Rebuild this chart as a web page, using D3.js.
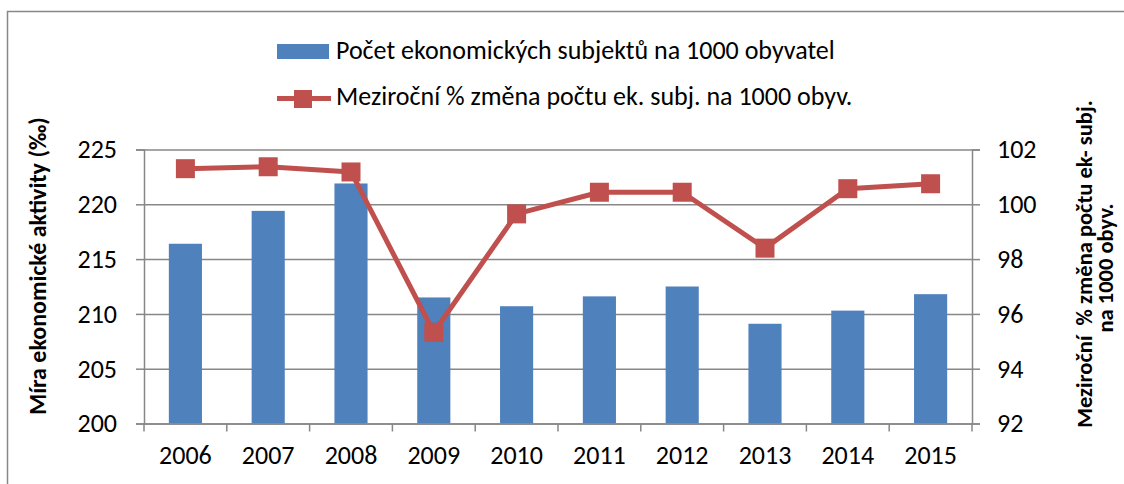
<!DOCTYPE html>
<html>
<head>
<meta charset="utf-8">
<script src="https://cdn.jsdelivr.net/npm/d3@7"></script>
<style>
  body { margin: 0; background: #fff; }
  text { font-family: Carlito, Calibri, 'Liberation Sans', Arial, sans-serif; fill: #000; }
</style>
</head>
<body>
<div id="chart"></div>
<script>
// data
var years = ['2006','2007','2008','2009','2010','2011','2012','2013','2014','2015'];
var pocet = [216.4, 219.4, 221.9, 211.5, 210.7, 211.6, 212.5, 209.1, 210.3, 211.8];
var zmena = [101.3, 101.37, 101.18, 95.33, 99.65, 100.44, 100.44, 98.4, 100.57, 100.75];
var leftTicks = [200, 205, 210, 215, 220, 225];
var rightTicks = [92, 94, 96, 98, 100, 102];
var barName = 'Počet ekonomických subjektů na 1000 obyvatel';
var lineName = 'Meziroční % změna počtu ek. subj. na 1000 obyv.';

var svgW = 1124, svgH = 484;
var margin = {top: 149.5, left: 144, right: 152, bottom: 60.5};
var chartW = svgW - margin.left - margin.right;
var chartH = svgH - margin.top - margin.bottom;

var barColor = '#4F81BD', lineColor = '#C0504D', gridColor = '#878787';

var svg = d3.select('#chart').append('svg')
    .attr('width', svgW)
    .attr('height', svgH);

// outer frame (right and bottom edges fall outside the picture)
svg.append('rect')
    .attr('x', 7.5).attr('y', 11.5)
    .attr('width', svgW + 10).attr('height', svgH + 10)
    .attr('fill', 'none').attr('stroke', '#888').attr('stroke-width', 1.5);

var chart = svg.append('g')
    .attr('transform', `translate(${margin.left},${margin.top})`);

var x = d3.scaleBand().domain(years).range([0, chartW]).paddingInner(0.6).paddingOuter(0.3);
var yL = d3.scaleLinear().domain([200, 225]).range([chartH, 0]);
var yR = d3.scaleLinear().domain([92, 102]).range([chartH, 0]);

// gridlines
var grid = chart.append('g')
    .call(d3.axisLeft(yL).tickValues(leftTicks).tickSize(-chartW).tickFormat(''));
grid.select('.domain').remove();
grid.selectAll('line').attr('stroke', gridColor).attr('stroke-width', 1.5);

// bars
chart.selectAll('rect.bar')
    .data(pocet)
    .enter()
    .append('rect')
    .classed('bar', true)
    .attr('x', (d, i) => x(years[i]))
    .attr('y', d => yL(d))
    .attr('width', x.bandwidth())
    .attr('height', d => chartH - yL(d))
    .attr('fill', barColor);

// left axis
var axL = chart.append('g')
    .call(d3.axisLeft(yL).tickValues(leftTicks).tickSize(8).tickPadding(19));
// right axis
var axR = chart.append('g')
    .attr('transform', `translate(${chartW},0)`)
    .call(d3.axisRight(yR).tickValues(rightTicks).tickSize(8).tickPadding(17));
// x axis labels
var axX = chart.append('g')
    .attr('transform', `translate(0,${chartH})`)
    .call(d3.axisBottom(x).tickSize(0).tickPadding(22));
axX.select('.domain').attr('stroke', gridColor).attr('stroke-width', 1.5);

[axL, axR].forEach(function (a) {
    a.select('.domain').attr('stroke', gridColor).attr('stroke-width', 1.5);
    a.selectAll('line').attr('stroke', gridColor).attr('stroke-width', 1.5);
});
[axL, axR, axX].forEach(function (a) {
    a.selectAll('text').attr('font-size', 26).attr('font-family', null);
});

// x tick marks between categories
var step = x.step();
var bounds = d3.range(years.length + 1).map(i => i * step);
chart.selectAll('line.xtick')
    .data(bounds)
    .enter()
    .append('line')
    .classed('xtick', true)
    .attr('x1', d => d).attr('x2', d => d)
    .attr('y1', chartH).attr('y2', chartH + 8)
    .attr('stroke', gridColor).attr('stroke-width', 1.5);

// line series
var line = d3.line()
    .x((d, i) => x(years[i]) + x.bandwidth() / 2)
    .y(d => yR(d));
chart.append('path')
    .datum(zmena)
    .attr('d', line)
    .attr('fill', 'none')
    .attr('stroke', lineColor)
    .attr('stroke-width', 5)
    .attr('stroke-linejoin', 'round');
var ms = 19;
chart.selectAll('rect.marker')
    .data(zmena)
    .enter()
    .append('rect')
    .classed('marker', true)
    .attr('x', (d, i) => x(years[i]) + x.bandwidth() / 2 - ms / 2)
    .attr('y', d => yR(d) - ms / 2)
    .attr('width', ms).attr('height', ms)
    .attr('fill', lineColor);

// legend
var leg = svg.append('g');
leg.append('rect')
    .attr('x', 277).attr('y', 44).attr('width', 52).attr('height', 15)
    .attr('fill', barColor);
leg.append('text')
    .attr('x', 336).attr('y', 59)
    .attr('font-size', 26)
    .text(barName);
leg.append('line')
    .attr('x1', 277).attr('x2', 331).attr('y1', 98.5).attr('y2', 98.5)
    .attr('stroke', lineColor).attr('stroke-width', 5);
leg.append('rect')
    .attr('x', 294).attr('y', 90).attr('width', 18).attr('height', 18)
    .attr('fill', lineColor);
leg.append('text')
    .attr('x', 336).attr('y', 105)
    .attr('font-size', 26)
    .text(lineName);

// axis titles
svg.append('text')
    .attr('transform', 'translate(46,266) rotate(-90)')
    .attr('text-anchor', 'middle')
    .attr('font-size', 24)
    .attr('font-weight', 'bold')
    .text('Míra ekonomické aktivity (‰)');
svg.append('text')
    .attr('transform', 'translate(1092,264) rotate(-90)')
    .attr('text-anchor', 'middle')
    .attr('font-size', 22.5)
    .attr('font-weight', 'bold')
    .style('white-space', 'pre')
    .text('Meziroční  % změna počtu ek- subj.');
svg.append('text')
    .attr('transform', 'translate(1113,268) rotate(-90)')
    .attr('text-anchor', 'middle')
    .attr('font-size', 22.5)
    .attr('font-weight', 'bold')
    .text('na 1000 obyv.');
</script>
</body>
</html>
